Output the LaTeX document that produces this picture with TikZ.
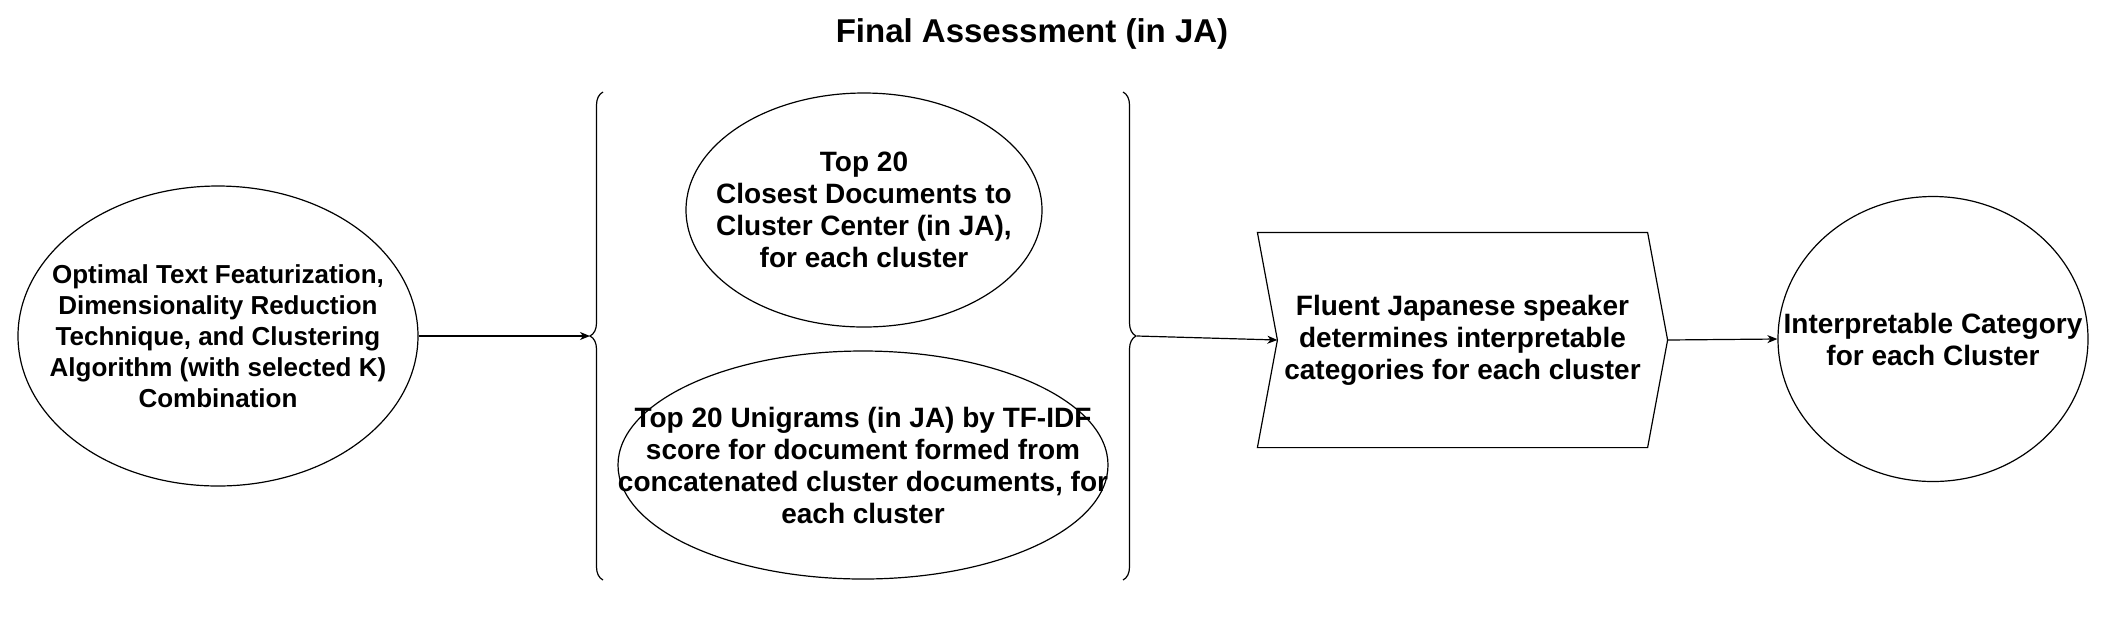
\documentclass[tikz,border=0pt]{standalone}
\usepackage{fontspec}
\setmainfont{Liberation Sans}
\usetikzlibrary{shapes,arrows,arrows.meta,decorations.pathreplacing,calc,positioning}
\tikzstyle{arrow} = [-{Stealth[length=5pt,width=4pt,inset=1.5pt]}]

\begin{document}
\begin{tikzpicture}[x=0.5pt,y=-0.5pt,line width=0.6pt]
\tikzset{oval/.style={draw,ellipse,inner sep=0pt}}
\tikzset{txt/.style={align=center,inner sep=0pt,font=\fontsize{14}{16}\selectfont\bfseries}}
\tikzset{curly/.style={decorate,decoration={brace,amplitude=6.5pt}}}
\useasboundingbox (0,0) rectangle (2109,634);

\node[font=\fontsize{16.5}{19}\selectfont\bfseries] (title) at (1032,34) {Final Assessment (in JA)};

% input combination
\node[oval,minimum width=200pt,minimum height=150pt] (combo) at (218,336) {};
\node[txt,font=\fontsize{13}{15.5}\selectfont\bfseries] (combotext) at (combo) {Optimal Text Featurization,\\Dimensionality Reduction\\Technique, and Clustering\\Algorithm (with selected K)\\Combination};

% the two outputs, grouped by braces
\draw[curly] (603,580) -- (603,92);
\coordinate (lbr) at (590,336);
\draw[curly] (1123,92) -- (1123,580);
\coordinate (rbr) at (1137,336);

\node[oval,minimum width=178pt,minimum height=117pt] (closest) at (864,210) {};
\node[txt] (closesttext) at (closest) {Top 20\\Closest Documents to\\Cluster Center (in JA),\\for each cluster};
\node[oval,minimum width=245pt,minimum height=114pt] (unigram) at (863,465) {};
\node[txt] (unigramtext) at (unigram) {Top 20 Unigrams (in JA) by TF-IDF\\score for document formed from\\concatenated cluster documents, for\\each cluster};

% manual step
\node[txt,minimum width=204.5pt,minimum height=107pt] (judge) at (1462.5,340) {Fluent Japanese speaker\\determines interpretable\\categories for each cluster};
\draw (judge.north west) -- ($(judge.north east)+(-10pt,0)$) -- (judge.east)
  -- ($(judge.south east)+(-10pt,0)$) -- (judge.south west) -- ($(judge.west)+(10pt,0)$) -- cycle;
\coordinate (notch) at ($(judge.west)+(10pt,0)$);

\node[oval,minimum width=155pt,minimum height=142.5pt] (category) at (1933,339) {};
\node[txt] (categorytext) at (category) {Interpretable Category\\for each Cluster};

\draw[arrow] (combo.east) -- (lbr);
\draw[arrow] (rbr) -- (notch);
\draw[arrow] (judge.east) -- (category.west);

\end{tikzpicture}
\end{document}
